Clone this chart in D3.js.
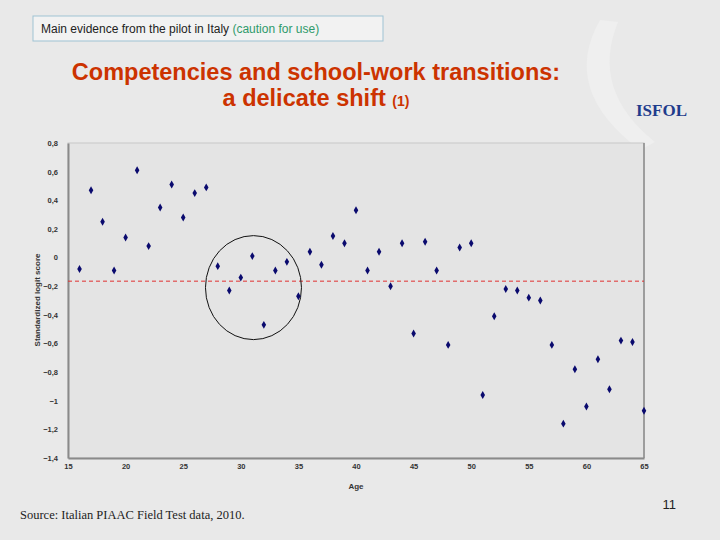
<!DOCTYPE html>
<html>
<head>
<meta charset="utf-8">
<script src="https://cdn.jsdelivr.net/npm/d3@7"></script>
<style>
  body { margin: 0; background: #e9e9e9; }
  svg { display: block; font-family: "Liberation Sans", Arial, sans-serif; }
</style>
</head>
<body>
<svg width="720" height="540"></svg>
<script>
// ages and standardized logit scores
var ages = d3.range(16, 66);
var scores = [-0.08, 0.47, 0.25, -0.09, 0.14, 0.61, 0.08, 0.35, 0.51, 0.28,
  0.45, 0.49, -0.06, -0.23, -0.14, 0.01, -0.47, -0.09, -0.03, -0.27,
  0.04, -0.05, 0.15, 0.10, 0.33, -0.09, 0.04, -0.20, 0.10, -0.53,
  0.11, -0.09, -0.61, 0.07, 0.10, -0.96, -0.41, -0.22, -0.23, -0.28,
  -0.30, -0.61, -1.16, -0.78, -1.04, -0.71, -0.92, -0.58, -0.59, -1.07];
var meanScore = -0.165;
var xTicks = [15, 20, 25, 30, 35, 40, 45, 50, 55, 60, 65];
var yTicks = [0.8, 0.6, 0.4, 0.2, 0, -0.2, -0.4, -0.6, -0.8, -1, -1.2, -1.4];

var svg = d3.select("svg");

// slide decoration
svg.append("path")
  .attr("d", "M600,20 Q560,90 640,150 L655,142 Q590,90 618,22 Z")
  .attr("fill", "#efefef");
svg.append("rect").attr("x", 33).attr("y", 16).attr("width", 350).attr("height", 25)
  .attr("fill", "#f2f2f2").attr("stroke", "#9fc3d4");
var hdr = svg.append("text").attr("x", 41).attr("y", 33).attr("font-size", 12).attr("fill", "#222");
hdr.append("tspan").text("Main evidence from the pilot in Italy ");
hdr.append("tspan").attr("fill", "#2e9a6a").text("(caution for use)");

var t1 = svg.append("text").attr("x", 316).attr("y", 80).attr("text-anchor", "middle")
  .attr("font-size", 23.5).attr("font-weight", "bold").attr("fill", "#cc3300");
t1.text("Competencies and school-work transitions:");
var t2 = svg.append("text").attr("x", 316).attr("y", 106).attr("text-anchor", "middle")
  .attr("font-size", 23.5).attr("font-weight", "bold").attr("fill", "#cc3300");
t2.append("tspan").text("a delicate shift ");
t2.append("tspan").attr("font-size", 14).text("(1)");

svg.append("text").attr("x", 636).attr("y", 116).attr("font-size", 17).attr("font-weight", "bold")
  .attr("fill", "#1f3c8c").attr("font-family", "Liberation Serif, serif").text("ISFOL");

// chart
var x = d3.scaleLinear().domain([15, 65]).range([68, 644]);
var y = d3.scaleLinear().domain([-1.4, 0.8]).range([458, 143]);

svg.append("rect").attr("x", 68).attr("y", 143).attr("width", 576).attr("height", 315)
  .attr("fill", "#e4e4e4").attr("stroke", "#c8c8c8");

var xAxis = svg.append("g").attr("transform", "translate(0,458)")
  .call(d3.axisBottom(x).tickValues(xTicks).tickSize(0).tickPadding(6));
var yAxis = svg.append("g").attr("transform", "translate(68,0)")
  .call(d3.axisLeft(y).tickValues(yTicks).tickSize(0).tickPadding(10)
    .tickFormat(function (d) { return d3.format("")(d).replace(".", ","); }));
[xAxis, yAxis].forEach(function (a) {
  a.select(".domain").attr("stroke", "#8a8a8a").attr("stroke-width", 2);
  a.selectAll("text").attr("font-size", 7.5).attr("font-weight", "bold").attr("fill", "#333")
    .attr("font-family", "Liberation Sans, Arial, sans-serif");
});
svg.append("line").attr("x1", 644).attr("x2", 644).attr("y1", 143).attr("y2", 458)
  .attr("stroke", "#8a8a8a").attr("stroke-width", 1.5);

svg.append("text").attr("x", 356).attr("y", 489).attr("text-anchor", "middle")
  .attr("font-size", 8).attr("font-weight", "bold").attr("fill", "#333").text("Age");
svg.append("text").attr("transform", "translate(40,300) rotate(-90)").attr("text-anchor", "middle")
  .attr("font-size", 8).attr("font-weight", "bold").attr("fill", "#333").text("Standardized logit score");

svg.append("line").attr("x1", 68).attr("x2", 644).attr("y1", y(meanScore)).attr("y2", y(meanScore))
  .attr("stroke", "#e03030").attr("stroke-dasharray", "4,3").attr("stroke-width", 1);

svg.append("ellipse").attr("cx", x(31.1)).attr("cy", y(-0.21)).attr("rx", 48).attr("ry", 52)
  .attr("fill", "none").attr("stroke", "#111").attr("stroke-width", 1);

svg.append("g").selectAll("path").data(ages).join("path")
  .attr("transform", function (d, i) { return "translate(" + x(d) + "," + y(scores[i]) + ")"; })
  .attr("d", d3.symbol(d3.symbolDiamond, 18))
  .attr("fill", "#0a0a6e");

svg.append("text").attr("x", 20).attr("y", 519).attr("font-size", 12.5)
  .attr("font-family", "Liberation Serif, serif").attr("fill", "#222")
  .text("Source: Italian PIAAC Field Test data, 2010.");
svg.append("text").attr("x", 676).attr("y", 509).attr("text-anchor", "end").attr("font-size", 13)
  .attr("fill", "#222").text("11");
</script>
</body>
</html>
